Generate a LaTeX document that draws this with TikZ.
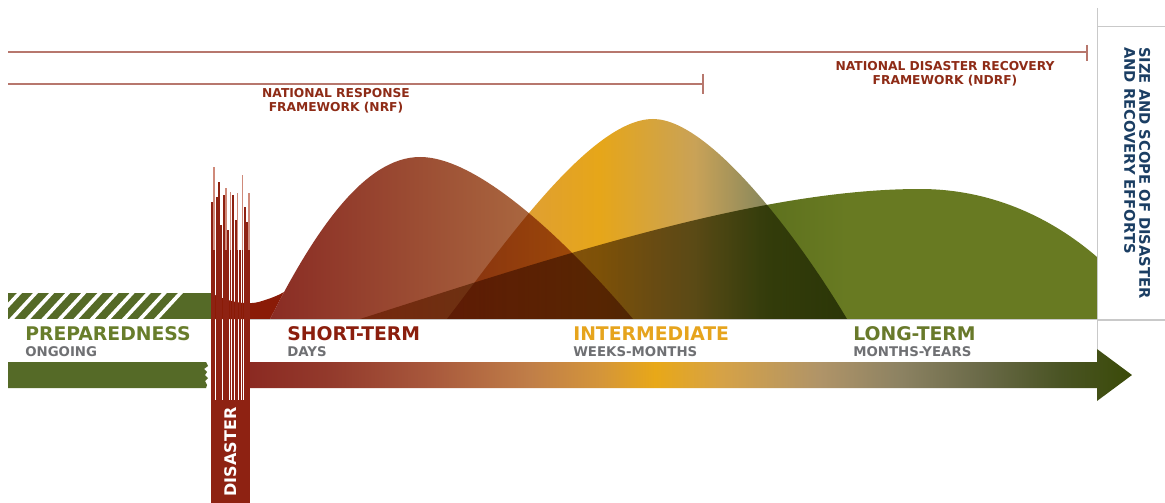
\documentclass[tikz,border=0pt]{standalone}
\usepackage{fontspec}
\setmainfont{DejaVu Sans}
\definecolor{bgColor}{HTML}{ffffff}
\definecolor{lineGray}{HTML}{c9c9c9}
\definecolor{frameRed}{HTML}{b7776d}
\definecolor{labelRed}{HTML}{8e2b16}
\definecolor{prepGreen}{HTML}{556a27}
\definecolor{prepText}{HTML}{687d2b}
\definecolor{subGray}{HTML}{6f7073}
\definecolor{disRed}{HTML}{8e2212}
\definecolor{disPink}{HTML}{cf8a7a}
\definecolor{swooshRed}{HTML}{8a1b07}
\definecolor{shortText}{HTML}{8b1e0d}
\definecolor{interText}{HTML}{e6a41d}
\definecolor{longText}{HTML}{68792a}
\definecolor{scopeBlue}{HTML}{1b3e63}
\definecolor{shortA}{HTML}{8a2c24}
\definecolor{shortB}{HTML}{b67e4a}
\definecolor{interA}{HTML}{d8984e}
\definecolor{interB}{HTML}{e6a619}
\definecolor{interC}{HTML}{c9a257}
\definecolor{interD}{HTML}{8e8a5c}
\definecolor{interE}{HTML}{6a713c}
\definecolor{longA}{HTML}{c99a52}
\definecolor{longB}{HTML}{7d7650}
\definecolor{longC}{HTML}{5f721e}
\definecolor{longD}{HTML}{687a22}
\definecolor{arrA}{HTML}{8b2a22}
\definecolor{arrB}{HTML}{933a2c}
\definecolor{arrC}{HTML}{a8583c}
\definecolor{arrD}{HTML}{c07e48}
\definecolor{arrE}{HTML}{d4953a}
\definecolor{arrF}{HTML}{e8a818}
\definecolor{arrG}{HTML}{d6a246}
\definecolor{arrH}{HTML}{b09468}
\definecolor{arrI}{HTML}{8c8262}
\definecolor{arrJ}{HTML}{6a6a48}
\definecolor{arrK}{HTML}{4a5424}
\definecolor{arrL}{HTML}{3a4a08}
\pgfdeclarehorizontalshading{interShade}{100bp}{color(0bp)=(interA); color(25bp)=(interA); color(44bp)=(interB); color(56bp)=(interC); color(64bp)=(interD); color(75bp)=(interE); color(100bp)=(interE)}
\pgfdeclarehorizontalshading{longShade}{100bp}{color(0bp)=(longA); color(25bp)=(longA); color(45bp)=(longB); color(53bp)=(longC); color(58bp)=(longD); color(100bp)=(longD)}
\pgfdeclarehorizontalshading{arrowShade}{100bp}{color(0bp)=(arrA); color(25bp)=(arrA); color(29.6bp)=(arrB); color(35.2bp)=(arrC); color(40.9bp)=(arrD); color(44.9bp)=(arrE); color(48bp)=(arrF); color(51.7bp)=(arrG); color(57.3bp)=(arrH); color(61.9bp)=(arrI); color(66.4bp)=(arrJ); color(70.9bp)=(arrK); color(75bp)=(arrL); color(100bp)=(arrL)}

\begin{document}
\begin{tikzpicture}
\tikzset{x=0.75pt,y=-0.75pt,
  phaselabel/.style={anchor=base west, inner sep=0pt, font=\fontsize{14.1}{16}\selectfont\bfseries},
  spanlabel/.style={anchor=base west, inner sep=0pt, color=subGray, font=\fontsize{10}{12}\selectfont\bfseries},
  framelabel/.style={color=labelRed, anchor=north, inner sep=0pt, align=center, font=\fontsize{9.2}{10.7}\selectfont\bfseries},
  frameline/.style={line width=0.9pt, color=frameRed},
  greyrule/.style={line width=0.75pt, color=lineGray}}
\clip (0,0) rectangle (1165,503);
\fill[bgColor] (0,0) rectangle (1165,503);
% preparedness bar with stripes
\fill[prepGreen] (8,293) rectangle (212,319);
\begin{scope}
\clip (8,293) rectangle (212,319);
\foreach \i in {0,...,10}
  \fill[white] ({17+16.1*\i},293) -- ({22+16.1*\i},293) -- ({-2+16.1*\i},319) -- ({-7+16.1*\i},319) -- cycle;
\end{scope}
% curves
\fill[swooshRed] (211,293) .. controls (228,302) and (248,306) .. (262,301) .. controls (272,298) and (279,295) .. (284,292) -- (270,319) -- (211,319) -- cycle;
\shade[left color=shortA, right color=shortB] (270,319) .. controls (315,230) and (365,157) .. (420,157) .. controls (480,157) and (570,245) .. (633,319) -- cycle;
\shade[shading=interShade, blend mode=multiply] (447,319) .. controls (500,250) and (590,119) .. (653,119) .. controls (710,119) and (800,240) .. (847,319) -- cycle;
\shade[shading=longShade, blend mode=multiply] (360,319) .. controls (560,255) and (760,189) .. (920,189) .. controls (1000,189) and (1060,225) .. (1097,257) -- (1097,319) -- cycle;
\draw[greyrule] (250,319.6) -- (1165,319.6);
% framework brackets
\coordinate (ndrfStart) at (8,52);
\coordinate (ndrfEnd) at (1087,52);
\coordinate (ndrfTop) at (1087,45);
\coordinate (ndrfBot) at (1087,61);
\draw[frameline] (ndrfStart) -- (ndrfEnd);
\draw[frameline] (ndrfTop) -- (ndrfBot);
\coordinate (nrfStart) at (8,84);
\coordinate (nrfEnd) at (703,84);
\coordinate (nrfTop) at (703,74);
\coordinate (nrfBot) at (703,94);
\draw[frameline] (nrfStart) -- (nrfEnd);
\draw[frameline] (nrfTop) -- (nrfBot);
\node[framelabel] (nrf) at (336,87.7) {NATIONAL RESPONSE\\FRAMEWORK (NRF)};
\node[framelabel] (ndrf) at (945,61) {NATIONAL DISASTER RECOVERY\\FRAMEWORK (NDRF)};
% timeline arrow
\fill[prepGreen] (8,362) -- (206,362) -- (208,366) -- (204,369) -- (207,372) -- (205,375) -- (208,378) -- (205,381) -- (207,385) -- (206,388) -- (8,388) -- cycle;
\shade[shading=arrowShade] (249,362) -- (1097,362) -- (1097,349) -- (1132,375) -- (1097,401) -- (1097,388) -- (249,388) -- cycle;
% disaster column
\foreach \bx/\btop/\bcol/\bw in {211.0/202/disRed/2.0, 213.3/167/disPink/1.6, 215.7/197/disRed/2.0, 218.0/182/disRed/2.0, 220.4/225/disRed/2.0, 222.7/195/disRed/2.0, 225.1/188/disPink/1.6, 227.4/230/disRed/2.0, 229.8/192/disPink/1.6, 232.1/195/disRed/2.0, 234.5/220/disRed/2.0, 236.8/193/disPink/1.6, 239.2/250/disRed/2.0, 241.5/175/disPink/1.6, 243.9/207/disRed/2.0, 246.2/222/disRed/2.0, 248.4/193/disPink/1.4}
  \fill[\bcol] (\bx,\btop) rectangle (\bx+\bw,400);
\foreach \bx/\bw in {213.3/1.6,225.1/1.6,229.8/1.6,236.8/1.6,241.5/1.6,248.4/1.4}
  \fill[disRed] (\bx,250) rectangle (\bx+\bw,400);
\fill[disRed] (211,400) rectangle (249.8,503);
\node[color=white, rotate=90, inner sep=0pt, font=\fontsize{12}{14}\selectfont\bfseries] (disaster) at (230.4,452) {DISASTER};
% phase labels
\node[phaselabel, color=prepText] (prep) at (25,340.7) {PREPAREDNESS};
\node[spanlabel] (ongoing) at (25,356) {ONGOING};
\node[phaselabel, color=shortText] (short) at (287,340.7) {SHORT-TERM};
\node[spanlabel] (days) at (287,356) {DAYS};
\node[phaselabel, color=interText] (inter) at (573,340.7) {INTERMEDIATE};
\node[spanlabel] (weeks) at (573,356) {WEEKS-MONTHS};
\node[phaselabel, color=longText] (long) at (853,340.7) {LONG-TERM};
\node[spanlabel] (years) at (853,356) {MONTHS-YEARS};
% size and scope panel
\draw[greyrule] (1097,8) -- (1097,349);
\draw[greyrule] (1097,27) -- (1165,27);
\draw[greyrule] (1097,320) -- (1165,320);
\node[color=scopeBlue, rotate=-90, anchor=north west, inner sep=0pt, align=left, font=\fontsize{11}{11.3}\selectfont\bfseries] (scope) at (1150.5,47) {SIZE AND SCOPE OF DISASTER\\AND RECOVERY EFFORTS};
\end{tikzpicture}
\end{document}
